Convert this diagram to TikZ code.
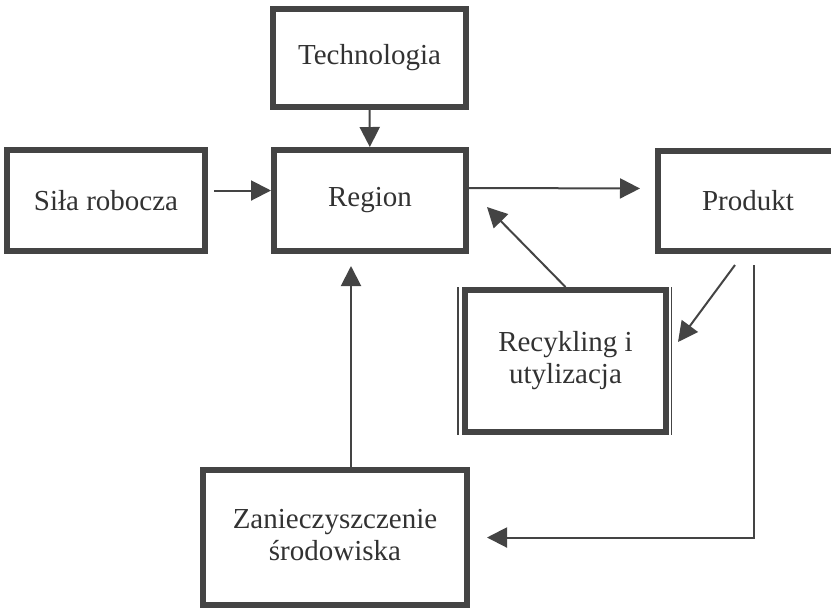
\documentclass[tikz,border=0pt]{standalone}
\usepackage{fontspec}
\setmainfont{Liberation Serif}
\usetikzlibrary{arrows.meta}
\definecolor{ink}{RGB}{68,68,68}
\definecolor{txt}{RGB}{50,50,50}
\begin{document}
\begin{tikzpicture}
        [x=0.5pt, y=-0.5pt,
        box/.style={rectangle, draw=ink, line width=3pt, inner sep=0pt, text=txt, align=center,
            font=\fontsize{14.5}{16}\selectfont},
        arr/.style={draw=ink, line width=1pt, -{Triangle[length=10pt,width=10pt]}}]
        \useasboundingbox (0,0) rectangle (831,607);
        \node[box, minimum width=96.5pt, minimum height=49pt] (Tech) at (369.5,58) {Technologia};
        \node[box, minimum width=99pt, minimum height=50.5pt] (Sila) at (106,200.5) {Siła robocza};
        \node[box, minimum width=96pt, minimum height=50.5pt] (Region) at (370,200.5) {Region};
        \node[box, minimum width=90pt, minimum height=50pt] (Prod) at (748,201) {Produkt};
        \node[box, minimum width=100.5pt, minimum height=71pt] (Rec) at (565.5,361) {Recykling i\\utylizacja};
        \node[box, minimum width=132pt, minimum height=67.5pt, text depth=3pt] (Zan) at (335,537.5) {Zanieczyszczenie\\środowiska};

        % thin outer lines of the recycling box
        \draw[ink, line width=0.6pt] ([xshift=-2pt]Rec.north west) -- ([xshift=-2pt]Rec.south west);
        \draw[ink, line width=0.6pt] ([xshift=1.2pt]Rec.north east) -- ([xshift=1.2pt]Rec.south east);

        \draw[arr] (Tech) -- (Region);
        \draw[arr, shorten <=3pt] ([yshift=5pt]Sila.east) -- ([yshift=5pt]Region.west);
        \draw[arr, shorten >=7.5pt] ([yshift=6.25pt]Region.east) -- ([yshift=6.25pt]Prod.west);
        \draw[arr] (Rec.north) -- ([xshift=9pt,yshift=-3.25pt]Region.east);
        \draw[arr] ([xshift=-6.5pt,yshift=-5.5pt]Prod.south) -- ([xshift=4.5pt,yshift=9.5pt]Rec.east);
        \draw[arr] ([xshift=3pt,yshift=-5.5pt]Prod.south) |- ([xshift=8.5pt]Zan.east);
        \draw[arr, shorten >=6pt] ([xshift=8pt]Zan.north) -- ([xshift=-9.5pt]Region.south);

    \end{tikzpicture}
\end{document}
